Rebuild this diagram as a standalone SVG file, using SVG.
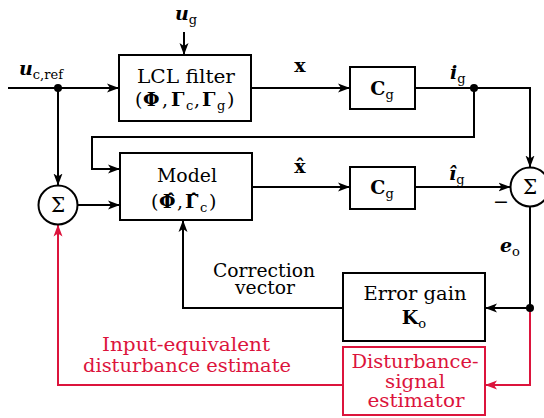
<svg xmlns="http://www.w3.org/2000/svg" width="544" height="418" viewBox="0 0 544 418">
<defs>
<style>
.box{fill:#fff;stroke:#000;stroke-width:2}
.rbox{fill:#fff;stroke:#dc143c;stroke-width:2}
.ln{fill:none;stroke:#000;stroke-width:2}
.rln{fill:none;stroke:#dc143c;stroke-width:2}
.t{font-family:"DejaVu Serif","Liberation Serif",serif;font-size:19px;fill:#000}
.rt{font-family:"DejaVu Serif","Liberation Serif",serif;font-size:19px;fill:#dc143c}
.m{font-family:"DejaVu Serif","Liberation Serif",serif;font-size:19px;fill:#000}
.bi{font-weight:bold;font-style:italic}
.b{font-weight:bold}
.s{font-size:13px;font-weight:normal;font-style:normal}
.sg{font-family:"DejaVu Serif","Liberation Serif",serif;font-size:20px;fill:#000}
</style>
<marker id="ah" markerWidth="13" markerHeight="10" refX="12" refY="5" orient="auto" markerUnits="userSpaceOnUse">
<path d="M0,0.5 L12,5 L0,9.5 L3,5 Z" fill="#000"/>
</marker>
<marker id="rah" markerWidth="13" markerHeight="10" refX="12" refY="5" orient="auto" markerUnits="userSpaceOnUse">
<path d="M0,0.5 L12,5 L0,9.5 L3,5 Z" fill="#dc143c"/>
</marker>
</defs>
<rect width="544" height="418" fill="#fff"/>

<g id="connectors">
<path class="ln" d="M8,88 H119" marker-end="url(#ah)"/>
<path class="ln" d="M184,32 V55" marker-end="url(#ah)"/>
<path class="ln" d="M251,88 H350" marker-end="url(#ah)"/>
<path class="ln" d="M415,88 H530 V167.5" marker-end="url(#ah)"/>
<path class="ln" d="M474,88 V137 H92 V169 H120" marker-end="url(#ah)"/>
<path class="ln" d="M58,88 V185.5" marker-end="url(#ah)"/>
<path class="ln" d="M77.5,205 H120" marker-end="url(#ah)"/>
<path class="ln" d="M252,187 H350" marker-end="url(#ah)"/>
<path class="ln" d="M415,187 H510.5" marker-end="url(#ah)"/>
<path class="ln" d="M530,206.5 V308 H485" marker-end="url(#ah)"/>
<path class="ln" d="M343,308 H183 V220" marker-end="url(#ah)"/>
<path class="rln" d="M530,308 V385 H485" marker-end="url(#rah)"/>
<path class="rln" d="M343,385 H58 V224.5" marker-end="url(#rah)"/>
<circle cx="58" cy="88" r="4" fill="#000"/>
<circle cx="474" cy="88" r="4" fill="#000"/>
<circle cx="530" cy="308" r="4" fill="#000"/>
</g>

<g id="labels">
<text class="m" x="19" y="75"><tspan class="bi">u</tspan><tspan class="s" dy="4">c,ref</tspan></text>
<text class="m" x="175" y="20"><tspan class="bi">u</tspan><tspan class="s" dy="4">g</tspan></text>
<text class="m b" x="300" y="72" text-anchor="middle">x</text>
<text class="m" x="450" y="79"><tspan class="bi">i</tspan><tspan class="s" dy="4">g</tspan></text>
<text class="m b" x="300" y="173" text-anchor="middle">x̂</text>
<text class="m" x="449" y="180"><tspan class="bi">î</tspan><tspan class="s" dy="4">g</tspan></text>
<text class="m" x="500" y="252"><tspan class="bi">e</tspan><tspan class="s" dy="4">o</tspan></text>
<text class="t" x="501" y="208" text-anchor="middle">−</text>
<text class="t" x="264" y="277" text-anchor="middle" textLength="102" lengthAdjust="spacingAndGlyphs">Correction</text>
<text class="t" x="265" y="294" text-anchor="middle" textLength="60" lengthAdjust="spacingAndGlyphs">vector</text>
<text class="rt" x="186" y="351" text-anchor="middle" textLength="168" lengthAdjust="spacingAndGlyphs">Input-equivalent</text>
<text class="rt" x="187" y="372" text-anchor="middle" textLength="208" lengthAdjust="spacingAndGlyphs">disturbance estimate</text>
</g>

<g id="lcl">
<rect class="box" x="119" y="55" width="132" height="66"/>
<text class="t" x="186" y="83" text-anchor="middle" textLength="98" lengthAdjust="spacingAndGlyphs">LCL filter</text>
<text class="m" y="106"><tspan x="135">(</tspan><tspan class="b" x="143">Φ</tspan><tspan x="162">,</tspan><tspan class="b" x="171">Γ</tspan><tspan class="s" x="186" dy="4">c</tspan><tspan x="194" dy="-4">,</tspan><tspan class="b" x="202">Γ</tspan><tspan class="s" x="217" dy="4">g</tspan><tspan x="227" dy="-4">)</tspan></text>
</g>

<g id="cg1">
<rect class="box" x="350" y="67" width="65" height="42"/>
<text class="m" x="382" y="95" text-anchor="middle"><tspan class="b">C</tspan><tspan class="s" dy="4">g</tspan></text>
</g>

<g id="model">
<rect class="box" x="120" y="153" width="132" height="67"/>
<text class="t" x="187" y="182" text-anchor="middle" textLength="60" lengthAdjust="spacingAndGlyphs">Model</text>
<text class="m" y="208"><tspan x="151">(</tspan><tspan class="b" x="159">Φ̂</tspan><tspan x="177">,</tspan><tspan class="b" x="185">Γ̂</tspan><tspan class="s" x="200" dy="4">c</tspan><tspan x="209" dy="-4">)</tspan></text>
</g>

<g id="cg2">
<rect class="box" x="350" y="167" width="65" height="42"/>
<text class="m" x="382" y="194" text-anchor="middle"><tspan class="b">C</tspan><tspan class="s" dy="4">g</tspan></text>
</g>

<g id="sum1">
<circle class="box" cx="58" cy="205" r="19.5"/>
<text class="sg" x="58" y="212" text-anchor="middle">Σ</text>
</g>

<g id="sum2">
<circle class="box" cx="530" cy="187" r="19.5"/>
<text class="sg" x="530" y="194" text-anchor="middle">Σ</text>
</g>

<g id="errorgain">
<rect class="box" x="343" y="273" width="142" height="68"/>
<text class="t" x="415" y="300" text-anchor="middle" textLength="103" lengthAdjust="spacingAndGlyphs">Error gain</text>
<text class="m" x="414" y="324" text-anchor="middle"><tspan class="b">K</tspan><tspan class="s" dy="4">o</tspan></text>
</g>

<g id="estimator">
<rect class="rbox" x="343" y="347" width="142" height="68"/>
<text class="rt" x="415" y="368" text-anchor="middle" textLength="127" lengthAdjust="spacingAndGlyphs">Disturbance-</text>
<text class="rt" x="415" y="388" text-anchor="middle" textLength="60" lengthAdjust="spacingAndGlyphs">signal</text>
<text class="rt" x="416" y="407" text-anchor="middle" textLength="97" lengthAdjust="spacingAndGlyphs">estimator</text>
</g>
</svg>
